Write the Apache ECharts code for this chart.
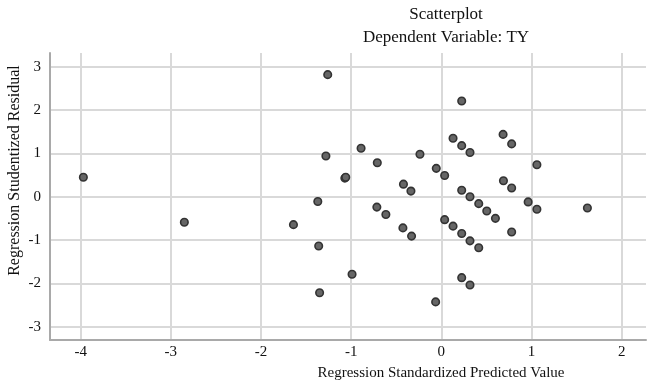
<!DOCTYPE html>
<html>
<head>
<meta charset="utf-8">
<script src="https://cdn.jsdelivr.net/npm/echarts@6/dist/echarts.min.js"></script>
<style>html,body{margin:0;padding:0;background:#fff}#c{width:647px;height:387px}</style>
</head>
<body>
<div id="c"></div>
<script>
const titleText = 'Scatterplot';
const subtitleText = 'Dependent Variable: TY';
const xName = 'Regression Standardized Predicted Value';
const yName = 'Regression Studentized Residual';

const predicted = [-3.97, -2.85, -1.64, -1.37, -1.36, -1.35, -1.26, -1.28, -1.07, -1.06, -0.99, -0.89, -0.71, -0.715, -0.615, -0.42, -0.337, -0.426, -0.33, -0.237, -0.056, -0.063, 0.037, 0.037, 0.13, 0.13, 0.226, 0.226, 0.226, 0.226, 0.226, 0.318, 0.318, 0.318, 0.318, 0.415, 0.415, 0.504, 0.6, 0.685, 0.689, 0.78, 0.78, 0.78, 0.963, 1.06, 1.06, 1.62];
const residual = [0.45, -0.59, -0.645, -0.11, -1.14, -2.22, 2.82, 0.94, 0.43, 0.45, -1.79, 1.12, 0.785, -0.24, -0.41, 0.29, 0.13, -0.72, -0.91, 0.98, 0.655, -2.43, 0.49, -0.53, 1.35, -0.68, 2.21, 1.18, 0.15, -0.85, -1.87, 1.02, 0.0, -1.02, -2.04, -0.16, -1.18, -0.33, -0.5, 1.44, 0.37, 1.22, 0.2, -0.815, -0.12, 0.74, -0.29, -0.26];

const points = predicted.map((v, i) => [v, residual[i]]);
const font = '"Liberation Serif", "Times New Roman", serif';

const chart = echarts.init(document.getElementById('c'), null, {renderer: 'canvas'});
chart.setOption({
  animation: false,
  backgroundColor: '#ffffff',
  title: {
    text: titleText,
    subtext: subtitleText,
    left: 441,
    top: 1,
    textAlign: 'center',
    itemGap: 6,
    textStyle: {fontFamily: font, fontSize: 17, fontWeight: 'normal', color: '#111111'},
    subtextStyle: {fontFamily: font, fontSize: 17, color: '#111111'}
  },
  grid: {left: 50, right: 1, top: 53, bottom: 47, containLabel: false, outerBoundsMode: 'none'},
  xAxis: {
    type: 'value',
    min: -4.34, max: 2.27,
    minInterval: 1, maxInterval: 1,
    name: xName,
    nameLocation: 'middle',
    nameGap: 26,
    nameMoveOverlap: false,
    nameTextStyle: {fontFamily: font, fontSize: 15, color: '#111111', padding: [0, 0, 0, 186]},
    axisLine: {show: true, onZero: false, lineStyle: {color: '#a9a9a9', width: 2}},
    axisTick: {show: false},
    axisLabel: {fontFamily: font, fontSize: 15, color: '#111111', margin: 5, showMinLabel: false, showMaxLabel: false},
    splitLine: {show: true, showMinLine: false, showMaxLine: false, lineStyle: {color: '#d9d9d9', width: 2}}
  },
  yAxis: {
    type: 'value',
    min: -3.31, max: 3.32,
    minInterval: 1, maxInterval: 1,
    name: yName,
    nameLocation: 'middle',
    nameRotate: 90,
    nameGap: 27,
    nameMoveOverlap: false,
    nameTextStyle: {fontFamily: font, fontSize: 16, color: '#111111', padding: [0, 0, 0, 52]},
    axisLine: {show: true, onZero: false, lineStyle: {color: '#a9a9a9', width: 2}},
    axisTick: {show: false},
    axisLabel: {fontFamily: font, fontSize: 15, color: '#111111', margin: 9, showMinLabel: false, showMaxLabel: false},
    splitLine: {show: true, showMinLine: false, showMaxLine: false, lineStyle: {color: '#d9d9d9', width: 2}}
  },
  series: [{
    type: 'scatter',
    data: points,
    symbolSize: 7.5,
    itemStyle: {color: '#666666', borderColor: '#333333', borderWidth: 1.6, opacity: 1}
  }]
});
</script>
</body>
</html>
